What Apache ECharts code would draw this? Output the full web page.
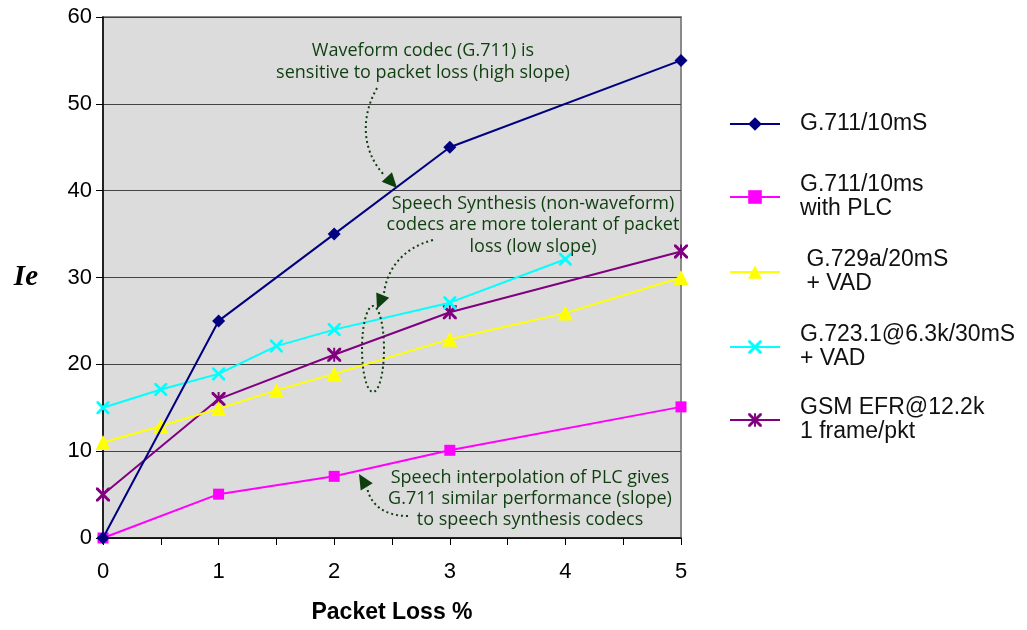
<!DOCTYPE html>
<html><head><meta charset="utf-8">
<script src="https://cdn.jsdelivr.net/npm/echarts@6/dist/echarts.min.js"></script>
<style>html,body{margin:0;padding:0;background:#fff}#c{width:1027px;height:630px}</style>
</head><body><div id="c"></div>
<script>
// ---- data ----
const seriesNames = ['G.711/10mS', 'G.711/10ms\nwith PLC', ' G.729a/20mS\n + VAD', 'G.723.1@6.3k/30mS\n+ VAD', 'GSM EFR@12.2k\n1 frame/pkt'];
const g711X = [0, 1, 2, 3, 5];
const g711Y = [0, 25, 35, 45, 55];
const plcX = [0, 1, 2, 3, 5];
const plcY = [0, 5.05, 7.1, 10.1, 15.1];
const g729X = [0, 0.5, 1, 1.5, 2, 3, 4, 5];
const g729Y = [11, 12.9, 14.9, 17, 18.9, 22.9, 25.9, 30];
const g723X = [0, 0.5, 1, 1.5, 2, 3, 4];
const g723Y = [15, 17.1, 18.9, 22.1, 24, 27.1, 32.1];
const gsmX = [0, 1, 2, 3, 5];
const gsmY = [5, 16, 21.1, 26, 33];
const xTicks = [0, 1, 2, 3, 4, 5];
const annotations = [
  'Waveform codec (G.711) is\nsensitive to packet loss (high slope)',
  'Speech Synthesis (non-waveform)\ncodecs are more tolerant of packet\nloss (low slope)',
  'Speech interpolation of PLC gives\nG.711 similar performance (slope)\nto speech synthesis codecs'
];

const pairs = (xs, ys) => xs.map((x, i) => [x, ys[i]]);
const CROSS = 'path://M0,0 L1.5,0 L5,3.5 L8.5,0 L10,0 L10,1.5 L6.5,5 L10,8.5 L10,10 L8.5,10 L5,6.5 L1.5,10 L0,10 L0,8.5 L3.5,5 L0,1.5 Z';
const STAR = CROSS + ' M4.3,0 L5.7,0 L5.7,10 L4.3,10 Z';

const colors = ['#000080', '#ff00ff', '#ffff00', '#00ffff', '#800080'];
const symbols = ['diamond', 'rect', 'triangle', CROSS, STAR];
const sizes = [[13, 13], 11, 15, 13, 14];
const datas = [pairs(g711X, g711Y), pairs(plcX, plcY), pairs(g729X, g729Y), pairs(g723X, g723Y), pairs(gsmX, gsmY)];
const legendCenters = [124, 197, 272, 347, 420];

const chart = echarts.init(document.getElementById('c'));
const labelFont = { fontFamily: 'Liberation Sans, Arial, sans-serif', fontSize: 22, color: '#000' };

const green = '#0f3f0f';
function head(tx, ty, fx, fy, len, w) {
  const dx = tx - fx, dy = ty - fy, L = Math.hypot(dx, dy);
  const ux = dx / L, uy = dy / L;
  const bx = tx - ux * len, by = ty - uy * len;
  return [[tx, ty], [bx - uy * w, by + ux * w], [bx + uy * w, by - ux * w]];
}
const dash = { stroke: green, lineWidth: 2, lineDash: [2, 3], fill: null };
const txtStyle = (t, x, y, lh) => ({
  type: 'text', x: x, y: y, z: 100,
  style: { text: t, fill: green, font: '18px "Open Sans", sans-serif', align: 'center', verticalAlign: 'top', lineHeight: lh }
});

chart.setOption({
  animation: false,
  backgroundColor: '#fff',
  grid: { left: 103, right: 346, top: 17, bottom: 92, show: true, backgroundColor: '#dcdcdc', borderColor: '#8a8a8a', borderWidth: 2 },
  xAxis: {
    type: 'value', min: 0, max: 5, interval: 0.5,
    name: 'Packet Loss %', nameLocation: 'middle', nameGap: 63,
    nameTextStyle: { fontFamily: 'Liberation Sans, Arial, sans-serif', fontSize: 23, fontWeight: 'bold', color: '#000' },
    axisLine: { onZero: false, lineStyle: { color: '#000', width: 1.5 } },
    axisTick: { show: true, length: 7, lineStyle: { color: '#000', width: 1 } },
    axisLabel: Object.assign({ margin: 23, formatter: v => (xTicks.indexOf(v) >= 0 ? String(v) : '') }, labelFont),
    splitLine: { show: false }
  },
  yAxis: {
    type: 'value', min: 0, max: 60, interval: 10,
    name: 'Ie', nameLocation: 'middle', nameGap: 65, nameRotate: 0,
    nameTextStyle: { fontFamily: 'Liberation Serif, Times New Roman, serif', fontSize: 29, fontWeight: 'bold', fontStyle: 'italic', color: '#000' },
    axisLine: { show: true, lineStyle: { color: '#000', width: 1.5 } },
    axisTick: { show: true, length: 7, lineStyle: { color: '#000', width: 1 } },
    axisLabel: Object.assign({ margin: 11 }, labelFont),
    splitLine: { show: true, lineStyle: { color: '#444', width: 1.2 } }
  },
  legend: seriesNames.map((n, i) => ({
    data: [n], orient: 'vertical', left: 729, top: legendCenters[i] - (n.indexOf('\n') >= 0 ? 24 : 12),
    padding: 0, itemWidth: 50, itemHeight: 17, selectedMode: false,
    textStyle: { fontFamily: 'Liberation Sans, Arial, sans-serif', fontSize: 23, color: '#111', lineHeight: 24, padding: [0, 0, 0, 15] }
  })),
  series: seriesNames.map((n, i) => ({
    name: n, type: 'line', data: datas[i],
    symbol: symbols[i], symbolSize: sizes[i], showAllSymbol: true,
    itemStyle: { color: colors[i] },
    lineStyle: { color: colors[i], width: 2 },
    z: 10 - i
  })),
  graphic: [
    txtStyle(annotations[0], 423, 40, 22),
    txtStyle(annotations[1], 533, 193, 21.5),
    txtStyle(annotations[2], 530, 467, 21),
    { type: 'bezierCurve', z: 100, shape: { x1: 377, y1: 88, cpx1: 360, cpy1: 118, cpx2: 362, cpy2: 152, x2: 385, y2: 176 }, style: dash },
    { type: 'polygon', z: 100, shape: { points: head(397, 188, 385, 175, 15, 7) }, style: { fill: green } },
    { type: 'bezierCurve', z: 100, shape: { x1: 433, y1: 240, cpx1: 402, cpy1: 248, cpx2: 387, cpy2: 270, x2: 384, y2: 293 }, style: dash },
    { type: 'polygon', z: 100, shape: { points: head(377, 309, 384, 292, 15, 7) }, style: { fill: green } },
    { type: 'ellipse', z: 100, shape: { cx: 373, cy: 349, rx: 11, ry: 43 }, style: dash },
    { type: 'bezierCurve', z: 100, shape: { x1: 408, y1: 516, cpx1: 385, cpy1: 516, cpx2: 370, cpy2: 505, x2: 367, y2: 487 }, style: dash },
    { type: 'polygon', z: 100, shape: { points: head(359, 474, 368, 489, 15, 7) }, style: { fill: green } }
  ]
});
</script></body></html>
